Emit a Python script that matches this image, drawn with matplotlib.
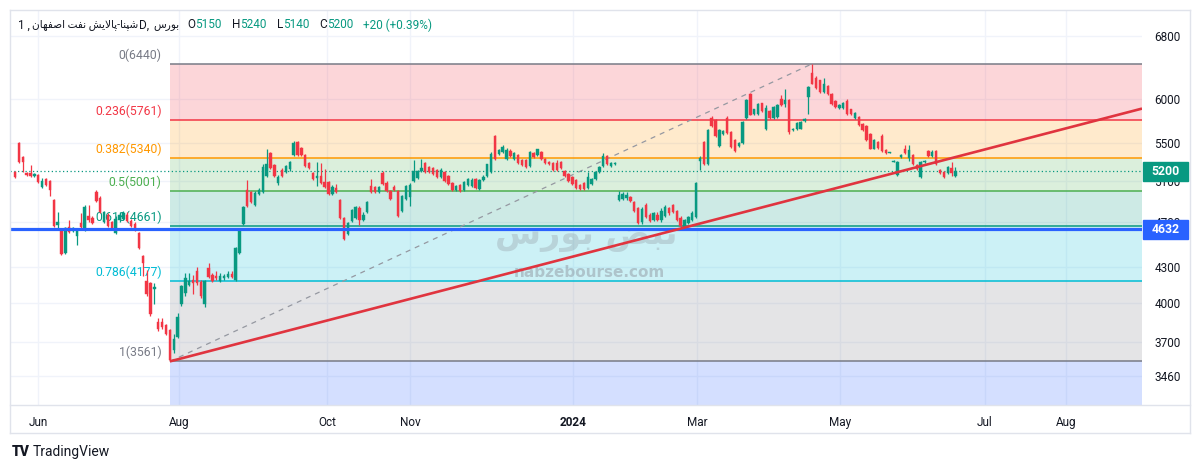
import numpy as np
import matplotlib
matplotlib.use('Agg')
import matplotlib.pyplot as plt
from matplotlib.patches import Rectangle
from matplotlib.lines import Line2D
from matplotlib.transforms import IdentityTransform
from matplotlib.ticker import NullLocator, NullFormatter

plt.rcParams['font.family'] = ['Roboto', 'DejaVu Sans']

# daily candles, Jun 2023 -> Jun 2024
opens = [5190, 5500, 5350, 5180, 5180, 5150, 5160, 5040, 5120, 5100, 4910, 4670, 4630, 4420, 4650, 4620, 4570, 4690, 4640, 4760,
         4740, 4990, 4930, 4700, 4770, 4700, 4600, 4720, 4730, 4770, 4710, 4680, 4600, 4390, 4180, 4160, 4110, 3850, 3850, 3830,
         3790, 3640, 3740, 3990, 4080, 4150, 4190, 4260, 4170, 3990, 4290, 4230, 4220, 4180, 4200, 4210, 4240, 4190, 4420, 4680,
         5010, 4990, 4860, 4970, 4990, 5150, 5390, 5260, 5080, 5210, 5190, 5220, 5370, 5510, 5450, 5370, 5290, 5180, 5130, 5150,
         5090, 5090, 4970, 5030, 4910, 4740, 4590, 4710, 4740, 4830, 4720, 4790, 5050, 5040, 4990, 5180, 5080, 5000, 5040, 5000,
         4800, 4920, 4940, 5100, 5130, 5200, 5290, 5240, 5230, 5210, 5140, 5190, 5150, 5080, 5010, 5060, 5010, 5060, 5050, 5120,
         5020, 5110, 5150, 5190, 5580, 5380, 5400, 5330, 5410, 5330, 5370, 5320, 5320, 5250, 5390, 5370, 5400, 5330, 5300, 5290,
         5290, 5300, 5200, 5170, 5140, 5110, 5060, 5080, 5030, 5070, 5120, 5190, 5250, 5360, 5250, 5270, 4910, 4920, 4930, 4940,
         4890, 4830, 4700, 4860, 4770, 4720, 4770, 4720, 4760, 4830, 4860, 4800, 4740, 4650, 4690, 4720, 4750, 5310, 5510, 5270,
         5780, 5760, 5470, 5600, 5780, 5620, 5530, 5470, 5500, 5780, 6060, 5830, 5830, 5950, 5650, 5860, 5780, 5790, 6000, 5940,
         5990, 5640, 5650, 5660, 5750, 6030, 6320, 6260, 6230, 6090, 6160, 6060, 5980, 5900, 5900, 5980, 5880, 5780, 5790, 5710,
         5690, 5600, 5440, 5510, 5580, 5420, 5390, 5300, 5160, 5350, 5440, 5340, 5370, 5260, 5140, 5300, 5410, 5360, 5410, 5210,
         5190, 5180, 5230, 5150]
highs = [5200, 5510, 5360, 5190, 5260, 5180, 5170, 5130, 5130, 5110, 4920, 4790, 4640, 4650, 4720, 4650, 4640, 4780, 4860, 4860,
         4760, 5010, 4950, 4800, 4780, 4710, 4760, 4790, 4800, 4790, 4730, 4700, 4610, 4400, 4270, 4170, 4160, 3880, 3880, 3840,
         3800, 3760, 3920, 4150, 4250, 4250, 4230, 4300, 4190, 4190, 4330, 4250, 4260, 4250, 4240, 4260, 4260, 4470, 4640, 4850,
         5110, 5000, 5000, 5030, 5270, 5440, 5400, 5270, 5160, 5230, 5260, 5310, 5520, 5520, 5460, 5380, 5300, 5190, 5300, 5290,
         5220, 5100, 5060, 5070, 4920, 4750, 4700, 4820, 4850, 4850, 4790, 4900, 5120, 5050, 5050, 5200, 5100, 5010, 5060, 5010,
         4960, 5060, 5080, 5320, 5210, 5330, 5300, 5250, 5240, 5220, 5230, 5200, 5160, 5090, 5060, 5070, 5100, 5130, 5130, 5130,
         5120, 5160, 5280, 5400, 5590, 5440, 5480, 5450, 5430, 5400, 5380, 5330, 5330, 5410, 5400, 5440, 5410, 5340, 5310, 5300,
         5320, 5310, 5210, 5180, 5150, 5120, 5070, 5090, 5190, 5130, 5200, 5250, 5390, 5370, 5300, 5300, 5000, 4990, 4990, 4950,
         4900, 4840, 4840, 4880, 4780, 4790, 4790, 4830, 4860, 4840, 4870, 4810, 4760, 4730, 4760, 4800, 5090, 5360, 5520, 5660,
         5800, 5770, 5660, 5640, 5800, 5630, 5540, 5510, 5750, 6000, 6080, 5890, 5950, 5960, 5930, 5870, 5920, 5940, 6050, 6130,
         6000, 5670, 5730, 5750, 5780, 6160, 6440, 6280, 6240, 6260, 6170, 6070, 5990, 5940, 5970, 6000, 5890, 5850, 5800, 5720,
         5700, 5610, 5540, 5520, 5600, 5430, 5400, 5315, 5310, 5380, 5480, 5480, 5380, 5270, 5310, 5320, 5420, 5420, 5420, 5220,
         5200, 5250, 5300, 5240]
lows = [5130, 5290, 5190, 5150, 5140, 5140, 5080, 5030, 5050, 4950, 4650, 4640, 4400, 4410, 4600, 4610, 4490, 4640, 4620, 4700,
        4680, 4890, 4780, 4690, 4650, 4630, 4590, 4700, 4720, 4700, 4650, 4620, 4450, 4220, 4060, 3900, 3990, 3780, 3800, 3750,
        3561, 3620, 3730, 3980, 4060, 4140, 4070, 4150, 4040, 3970, 4200, 4170, 4190, 4170, 4190, 4200, 4200, 4180, 4410, 4670,
        4840, 4880, 4850, 4960, 4980, 5140, 5220, 5140, 5060, 5140, 5180, 5200, 5360, 5360, 5360, 5240, 5220, 5110, 5050, 5070,
        5030, 4960, 4960, 4980, 4730, 4530, 4580, 4700, 4730, 4670, 4710, 4780, 4980, 4980, 4980, 5060, 4990, 4910, 5000, 4750,
        4790, 4910, 4850, 5090, 5120, 5190, 5180, 5180, 5160, 5130, 5130, 5090, 5060, 5000, 5000, 4990, 5000, 5050, 5040, 5020,
        5010, 5100, 5140, 5180, 5320, 5370, 5390, 5320, 5350, 5320, 5280, 5250, 5230, 5240, 5340, 5360, 5320, 5280, 5260, 5200,
        5200, 5220, 5140, 5090, 5060, 5020, 5010, 5010, 5020, 5060, 5110, 5180, 5240, 5260, 5240, 5260, 4900, 4910, 4910, 4890,
        4790, 4680, 4680, 4740, 4700, 4710, 4710, 4700, 4750, 4770, 4780, 4710, 4640, 4640, 4680, 4710, 4740, 5210, 5260, 5260,
        5680, 5570, 5460, 5590, 5600, 5450, 5400, 5460, 5490, 5770, 5810, 5820, 5820, 5850, 5640, 5770, 5770, 5780, 5920, 5910,
        5600, 5630, 5640, 5650, 5740, 5830, 6180, 6120, 6080, 6080, 6050, 5930, 5900, 5890, 5890, 5820, 5820, 5770, 5690, 5630,
        5520, 5430, 5430, 5440, 5400, 5380, 5390, 5295, 5150, 5340, 5380, 5310, 5260, 5210, 5130, 5290, 5350, 5350, 5260, 5170,
        5130, 5170, 5150, 5140]
closes = [5140, 5300, 5300, 5160, 5150, 5170, 5090, 5100, 5060, 5010, 4660, 4700, 4410, 4640, 4610, 4640, 4630, 4650, 4840, 4720,
          4690, 4900, 4790, 4790, 4660, 4640, 4730, 4770, 4780, 4710, 4660, 4630, 4460, 4330, 4070, 3910, 4130, 3800, 3810, 3760,
          3570, 3720, 3890, 4140, 4200, 4180, 4160, 4160, 4060, 4180, 4210, 4180, 4200, 4220, 4220, 4240, 4210, 4460, 4630, 4840,
          4850, 4890, 4980, 5010, 5240, 5280, 5230, 5150, 5140, 5150, 5250, 5300, 5500, 5370, 5370, 5250, 5230, 5120, 5150, 5080,
          5040, 4970, 5040, 4990, 4740, 4540, 4690, 4810, 4840, 4720, 4770, 4890, 4990, 4990, 5040, 5070, 5000, 4920, 5010, 4760,
          4950, 5050, 5060, 5200, 5200, 5230, 5190, 5190, 5170, 5140, 5210, 5100, 5070, 5010, 5050, 5000, 5090, 5120, 5110, 5030,
          5110, 5140, 5270, 5380, 5330, 5420, 5460, 5420, 5360, 5390, 5290, 5260, 5240, 5400, 5350, 5430, 5330, 5290, 5270, 5210,
          5210, 5230, 5150, 5100, 5070, 5030, 5020, 5020, 5140, 5120, 5190, 5240, 5360, 5270, 5290, 5290, 4960, 4970, 4960, 4900,
          4800, 4690, 4820, 4750, 4710, 4780, 4720, 4800, 4840, 4780, 4790, 4720, 4660, 4720, 4750, 4780, 5080, 5340, 5270, 5640,
          5690, 5580, 5640, 5630, 5610, 5460, 5410, 5500, 5740, 5990, 5820, 5880, 5940, 5860, 5900, 5780, 5910, 5930, 5930, 5990,
          5620, 5660, 5720, 5740, 5770, 6150, 6190, 6140, 6090, 6190, 6060, 5940, 5910, 5930, 5960, 5830, 5830, 5840, 5700, 5640,
          5530, 5440, 5530, 5450, 5410, 5390, 5400, 5310, 5300, 5370, 5390, 5420, 5270, 5220, 5300, 5310, 5360, 5400, 5270, 5180,
          5140, 5240, 5180, 5200]

# fibonacci retracement drawn from the Aug swing low to the Apr peak
fib_ratios = [0, 0.236, 0.382, 0.5, 0.618, 0.786, 1]
fib_high = 6440
fib_low = 3561
fib_low_bar = 40
fib_high_bar = 206

support_price = 4632
last_price = 5200
trend_bars = [40, 291.2]
trend_prices = [3561, 5890]

price_ticks = [3460, 3700, 4000, 4300, 4700, 5100, 5500, 6000, 6800]
month_pos = [5.9, 42.4, 80.6, 102.1, 144.2, 176.2, 213.2, 250.6, 271.6]
month_labels = ['Jun', 'Aug', 'Oct', 'Nov', '2024', 'Mar', 'May', 'Jul', 'Aug']

symbol_name = 'شپنا-پالایش نفت اصفهان'
exchange_name = 'بورس'
watermark_name = 'نبض بورس'
ohlc = [('O', '5150'), ('H', '5240'), ('L', '5140'), ('C', '5200')]
change_text = '+20 (+0.39%)'

GREEN = '#089981'
RED = '#f23645'
TXT = '#131722'

# simple persian shaping (matplotlib has no bidi / shaping)
FA_FORMS = {
    'ا': ('\uFE8D', '\uFE8E', None, None),
    'ب': ('\uFE8F', '\uFE90', '\uFE91', '\uFE92'),
    'پ': ('\uFB56', '\uFB57', '\uFB58', '\uFB59'),
    'ت': ('\uFE95', '\uFE96', '\uFE97', '\uFE98'),
    'ر': ('\uFEAD', '\uFEAE', None, None),
    'س': ('\uFEB1', '\uFEB2', '\uFEB3', '\uFEB4'),
    'ش': ('\uFEB5', '\uFEB6', '\uFEB7', '\uFEB8'),
    'ص': ('\uFEB9', '\uFEBA', '\uFEBB', '\uFEBC'),
    'ض': ('\uFEBD', '\uFEBE', '\uFEBF', '\uFEC0'),
    'ف': ('\uFED1', '\uFED2', '\uFED3', '\uFED4'),
    'ل': ('\uFEDD', '\uFEDE', '\uFEDF', '\uFEE0'),
    'ن': ('\uFEE5', '\uFEE6', '\uFEE7', '\uFEE8'),
    'ه': ('\uFEE9', '\uFEEA', '\uFEEB', '\uFEEC'),
    'و': ('\uFEED', '\uFEEE', None, None),
    'ی': ('\uFBFC', '\uFBFD', '\uFBFE', '\uFBFF'),
}


def fa_visual(s):
    out = []
    i = 0
    while i < len(s):
        ch = s[i]
        if ch not in FA_FORMS:
            out.append(ch)
            i += 1
            continue
        prev = s[i - 1] if i > 0 else ''
        link_prev = prev in FA_FORMS and FA_FORMS[prev][2] is not None
        if ch == 'ل' and i + 1 < len(s) and s[i + 1] == 'ا':
            out.append('\uFEFC' if link_prev else '\uFEFB')
            i += 2
            continue
        nxt = s[i + 1] if i + 1 < len(s) else ''
        link_next = nxt in FA_FORMS and FA_FORMS[ch][2] is not None
        iso, fin, ini, med = FA_FORMS[ch]
        if link_prev and link_next:
            out.append(med)
        elif link_prev:
            out.append(fin)
        elif link_next:
            out.append(ini)
        else:
            out.append(iso)
        i += 1
    return ''.join(reversed(out))


W, H = 1200, 471
fig = plt.figure(figsize=(W / 100, H / 100), dpi=100, facecolor='white')
ax = fig.add_axes([10 / W, 1 - 405 / H, 1132 / W, 395 / H])
ax.set_yscale('log')
y_lo, y_hi = 3265, 7167
x_lo, x_hi = -1.3, 291.2

# fib bands + level lines
levels = [fib_high - r * (fib_high - fib_low) for r in fib_ratios]
level_cols = ['#787b86', '#f23645', '#ff9800', '#4caf50', '#089981', '#00bcd4', '#787b86']
band_cols = ['#f23645', '#ff9800', '#4caf50', '#089981', '#00bcd4', '#787b86', '#2962ff']
for i, top in enumerate(levels):
    bot = levels[i + 1] if i + 1 < len(levels) else y_lo
    ax.fill_between([fib_low_bar, x_hi], bot, top, color=band_cols[i], alpha=0.2, lw=0, zorder=1)
    ax.hlines(top, fib_low_bar, x_hi, colors=level_cols[i], lw=1.1, zorder=1.5)
    ax.annotate(f'{fib_ratios[i]:g}({int(top + 0.5)})', xy=(fib_low_bar, top), xytext=(-6, 1.5),
                textcoords='offset points', ha='right', va='bottom', color=level_cols[i], fontsize=8.8)

ax.plot([fib_low_bar, fib_high_bar], [fib_low, fib_high], color='#9598a1', lw=0.9, ls=(0, (4, 4)), zorder=1.6)
ax.axhline(last_price, color=GREEN, lw=0.9, ls=(0, (1, 2)), zorder=1.7)

# candles
x = np.arange(len(closes))
o = np.array(opens)
c = np.array(closes)
cols = np.where(c >= o, GREEN, RED)
ax.vlines(x, lows, highs, colors=cols, lw=0.9, zorder=3)
ax.bar(x, np.maximum(np.abs(c - o), 8), bottom=np.minimum(o, c), width=0.62,
       color=cols, edgecolor=cols, linewidth=0.3, zorder=3.1)

ax.axhline(support_price, color='#2962ff', lw=2.3, zorder=4)
ax.plot(trend_bars, trend_prices, color='#e0343f', lw=1.9, zorder=4.2, solid_capstyle='butt')

# watermark
ax.text(0.509, 0.43, fa_visual(watermark_name), transform=ax.transAxes, ha='center', va='center',
        fontsize=24, fontweight='bold', color='#8a8f98', alpha=0.3, family=['DejaVu Sans'], zorder=2)
ax.text(0.512, 0.335, 'nabzebourse.com', transform=ax.transAxes, ha='center', va='center',
        fontsize=11, fontweight='bold', color='#8a8f98', alpha=0.45, family=['DejaVu Sans'], zorder=2)

ax.set_xlim(x_lo, x_hi)
ax.set_ylim(y_lo, y_hi)
ax.yaxis.tick_right()
ax.set_yticks(price_ticks)
ax.set_yticklabels([str(t) for t in price_ticks])
ax.yaxis.set_minor_locator(NullLocator())
ax.yaxis.set_minor_formatter(NullFormatter())
ax.set_xticks(month_pos)
ax.set_xticklabels(month_labels)
ax.tick_params(axis='y', length=0, pad=9, labelsize=8.5, labelcolor=TXT)
ax.tick_params(axis='x', length=0, pad=8, labelsize=8.5, labelcolor=TXT)
for lab in ax.get_xticklabels():
    if lab.get_text() == '2024':
        lab.set_fontweight('bold')
ax.grid(True, color='#f0f3fa', lw=1)
ax.set_axisbelow(True)
for s in ax.spines.values():
    s.set_visible(False)

# frame
def fig_line(x0, y0, x1, y1):
    fig.add_artist(Line2D([x0 / W, x1 / W], [1 - y0 / H, 1 - y1 / H], color='#e0e3eb', lw=1))

fig_line(10, 10, 1190, 10)
fig_line(10, 405, 1190, 405)
fig_line(10, 433, 1190, 433)
fig_line(1190, 10, 1190, 433)
fig_line(10, 10, 10, 433)

fig.canvas.draw()
r = fig.canvas.get_renderer()

# price tags on the right scale
for price, colr in [(last_price, GREEN), (support_price, '#2962ff')]:
    yd = ax.transData.transform((0, price))[1]
    x0 = ax.transAxes.transform((1, 0))[0] + 1
    fig.add_artist(Rectangle((x0, yd - 9.5), 45, 19, transform=IdentityTransform(), color=colr, zorder=5))
    fig.text(x0 + 22.5, yd, str(price), transform=IdentityTransform(), ha='center', va='center',
             color='white', fontsize=8.8, fontweight='bold', zorder=6)


def put_row(x_px, y_px, pieces):
    for s, colr, size, gap in pieces:
        t = fig.text(x_px / W, 1 - y_px / H, s, color=colr, fontsize=size, ha='left', va='center')
        x_px += t.get_window_extent(r).width + gap
    return x_px


row = [('1 ,', TXT, 8.5, 2), (fa_visual(symbol_name), TXT, 7.6, 1), ('D,', TXT, 8.5, 4),
       (fa_visual(exchange_name), TXT, 7.6, 8)]
for k, v in ohlc:
    row += [(k, TXT, 8.5, 0), (v, GREEN, 8.5, 10)]
row.append((change_text, GREEN, 8.5, 0))
put_row(18, 25, row)

# tradingview badge
fig.text(12 / W, 1 - 452 / H, 'TV', fontsize=10, fontweight='heavy', color=TXT, va='center')
fig.text(33 / W, 1 - 452 / H, 'TradingView', fontsize=10, color=TXT, va='center')

fig.savefig('out.png', dpi=100, facecolor='white')
